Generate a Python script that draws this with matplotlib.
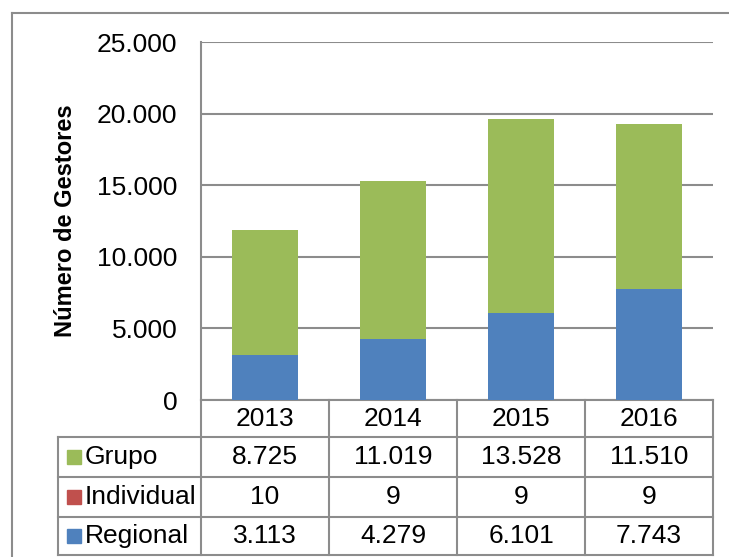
import matplotlib
matplotlib.use("Agg")
import matplotlib.pyplot as plt
import matplotlib.transforms as mtransforms
from matplotlib.patches import Rectangle
from matplotlib.lines import Line2D

plt.rcParams['font.family'] = ['Liberation Sans', 'DejaVu Sans']

years = ["2013", "2014", "2015", "2016"]
regional = [3113, 4279, 6101, 7743]
individual = [10, 9, 9, 9]
grupo = [8725, 11019, 13528, 11510]
series_names = ["Grupo", "Individual", "Regional"]
colors = {"Regional": "#4F81BD", "Individual": "#C0504D", "Grupo": "#9BBB59"}
yticks = [0, 5000, 10000, 15000, 20000, 25000]

def fmt(v):
    return f"{v:,}".replace(",", ".")

W, H = 729, 557
fig = plt.figure(figsize=(W / 100, H / 100), dpi=100)
grid_c = "#8C8C8C"
FS = 19

# outer chart border
fig.add_artist(Line2D([12 / W, 1], [1 - 13 / H, 1 - 13 / H], color=grid_c, lw=1.5, transform=fig.transFigure))
fig.add_artist(Line2D([12 / W, 12 / W], [0, 1 - 13 / H], color=grid_c, lw=1.5, transform=fig.transFigure))

ax = fig.add_axes([201 / W, 1 - 400 / H, 512 / W, 358 / H])
x = list(range(len(years)))
bw = 0.51
ax.bar(x, regional, bw, color=colors["Regional"], zorder=3)
bottom2 = [r for r in regional]
ax.bar(x, individual, bw, bottom=bottom2, color=colors["Individual"], zorder=3)
bottom3 = [r + i for r, i in zip(regional, individual)]
ax.bar(x, grupo, bw, bottom=bottom3, color=colors["Grupo"], zorder=3)

ax.set_xlim(-0.5, len(years) - 0.5)
ax.set_ylim(0, 25000)
ax.set_yticks(yticks)
ax.set_yticklabels([fmt(v) for v in yticks], fontsize=FS)
ax.tick_params(axis='y', length=0, pad=17)
ax.set_xticks([])
for s in ["top", "right", "bottom"]:
    ax.spines[s].set_visible(False)
ax.spines["left"].set_color(grid_c)
ax.spines["left"].set_linewidth(1.5)
ax.yaxis.grid(True, color=grid_c, lw=1.5, zorder=0)
ax.set_axisbelow(True)
ax.set_ylabel("Número de Gestores", fontsize=17, fontweight="bold", labelpad=14)

# data table
def ya(px):
    return (400 - px) / 358.0

def xa(px):
    return (px - 201) / 512.0

row_edges = [400, 437, 477, 517, 555]
ta = ax.transAxes
blend = mtransforms.blended_transform_factory(ax.transData, ax.transAxes)
lk = dict(color=grid_c, lw=1.5, clip_on=False)
ax.add_line(Line2D([0, 1], [ya(400), ya(400)], transform=ta, **lk))
for yp in row_edges[1:]:
    ax.add_line(Line2D([xa(58), 1], [ya(yp), ya(yp)], transform=ta, **lk))
for i in range(len(years) + 1):
    ax.add_line(Line2D([i - 0.5, i - 0.5], [ya(400), ya(555)], transform=blend, **lk))
ax.add_line(Line2D([xa(58), xa(58)], [ya(437), ya(555)], transform=ta, **lk))

yc = ya((400 + 437) / 2)
for i, yr in enumerate(years):
    ax.text(i, yc, yr, transform=blend, ha="center", va="center", fontsize=FS)

rows = {"Grupo": grupo, "Individual": individual, "Regional": regional}
for r, name in enumerate(series_names):
    top, bot = row_edges[r + 1], row_edges[r + 2]
    ycen = ya((top + bot) / 2)
    sq = 14
    ax.add_patch(Rectangle((xa(67), ya((top + bot) / 2 + sq / 2)), sq / 512, sq / 358,
                           transform=ta, color=colors[name], clip_on=False))
    ax.text(xa(85), ycen, name, transform=ta, ha="left", va="center", fontsize=FS)
    for i, v in enumerate(rows[name]):
        ax.text(i, ycen, fmt(v), transform=blend, ha="center", va="center", fontsize=FS)

fig.savefig("out.png", dpi=100)
